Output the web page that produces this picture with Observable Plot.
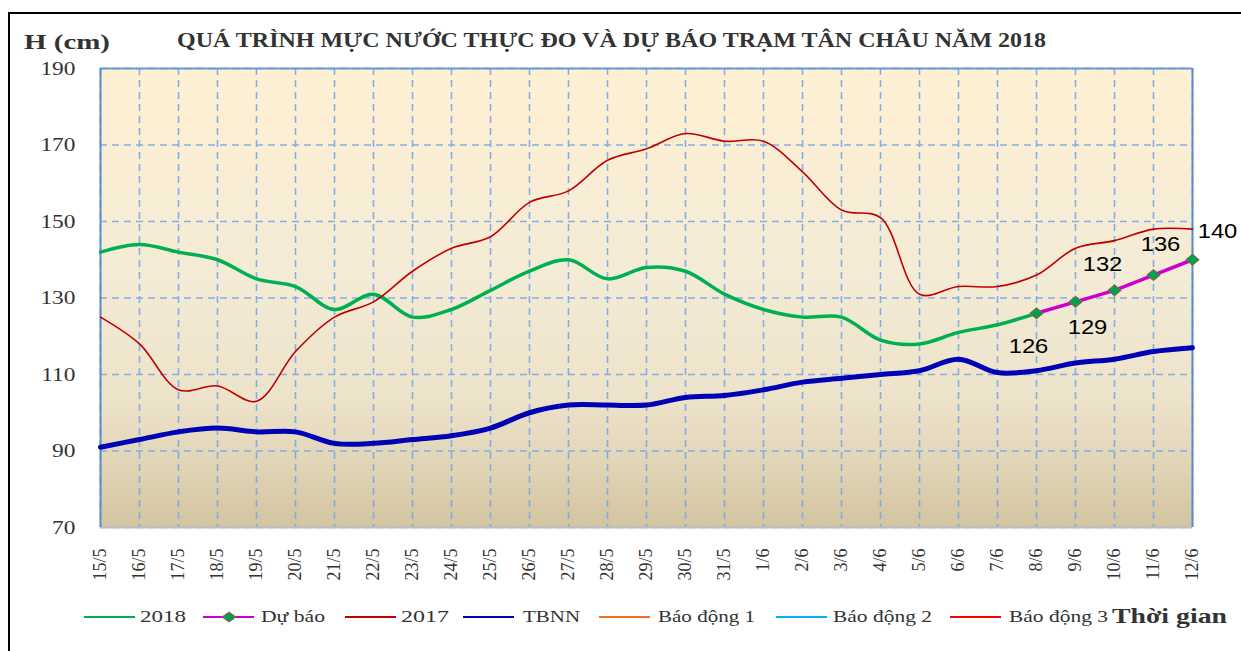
<!DOCTYPE html>
<html>
<head>
<meta charset="utf-8">
<script src="https://cdn.jsdelivr.net/npm/d3@7"></script>
<script src="https://cdn.jsdelivr.net/npm/@observablehq/plot@0.6"></script>
<style>
html,body{margin:0;padding:0;background:#fff;overflow:hidden;}
#wrap{position:relative;width:1241px;height:651px;overflow:hidden;}
#chart{position:absolute;left:0;top:0;}
#frame{position:absolute;left:8px;top:12px;width:1400px;height:800px;border-top:2px solid #000;border-left:2px solid #000;box-sizing:border-box;}
.ov{position:absolute;white-space:nowrap;color:#333;font-family:'Liberation Serif','Times New Roman',serif;line-height:1;transform-origin:0 50%;}
.bold{font-weight:bold;}
.lg{position:absolute;height:2px;}
</style>
</head>
<body>
<div id="wrap">
  <div id="chart"></div>
  <div id="frame"></div>
</div>
<script>
// ---- data ----
const dates = ["15/5","16/5","17/5","18/5","19/5","20/5","21/5","22/5","23/5","24/5","25/5","26/5","27/5","28/5","29/5","30/5","31/5",
               "1/6","2/6","3/6","4/6","5/6","6/6","7/6","8/6","9/6","10/6","11/6","12/6"];
const yTicks = [70, 90, 110, 130, 150, 170, 190];
const values2018 = [142,144,142,140,135,133,127,131,125,127,132,137,140,135,138,137,131,127,125,125,119,118,121,123,126];
const forecastDates = ["8/6","9/6","10/6","11/6","12/6"];
const forecastValues = [126,129,132,136,140];
const values2017 = [125,118,106,107,103,116,125,129,137,143,146,155,158,166,169,173,171,171,163,153,151,131,133,133,136,143,145,148,148];
const valuesTBNN = [91,93,95,96,95,95,92,92,93,94,96,100,102,102,102,104,104.5,106,108,109,110,111,114,110.5,111,113,114,116,117];
const legendItems = ["2018","Dự báo","2017","TBNN","Báo động 1","Báo động 2","Báo động 3"];
const titleText = "QUÁ TRÌNH MỰC NƯỚC THỰC ĐO VÀ DỰ BÁO TRẠM TÂN CHÂU NĂM 2018";
const yTitle = "H (cm)";
const xTitle = "Thời gian";

// ---- tables ----
const t2018 = values2018.map((v, i) => ({date: dates[i], v}));
const tFc = forecastValues.map((v, i) => ({date: forecastDates[i], v}));
const t2017 = values2017.map((v, i) => ({date: dates[i], v}));
const tTBNN = valuesTBNN.map((v, i) => ({date: dates[i], v}));

const labelOffsets = [[-8, 33], [12, 26], [-12, -26], [7, -30], [25, -28]];

const gridStyle = {stroke: "#7AA7E6", strokeOpacity: 0.9, strokeWidth: 1.6, strokeDasharray: "7,5"};

// wide diamond marker (like the Excel marker)
const wideDiamond = {
  draw(context, size) {
    const r = Math.sqrt(size / Math.PI);
    const w = r * 1.2, h = r;
    context.moveTo(0, -h);
    context.lineTo(w, 0);
    context.lineTo(0, h);
    context.lineTo(-w, 0);
    context.closePath();
  }
};

const chart = Plot.plot({
  width: 1241,
  height: 651,
  marginLeft: 100,
  marginRight: 49,
  marginTop: 68,
  marginBottom: 124,
  style: {fontFamily: "'Liberation Serif','Times New Roman',serif", background: "transparent", color: "#333"},
  x: {type: "point", domain: dates, padding: 0, label: null},
  y: {domain: [70, 190], label: null},
  marks: [
    Plot.frame({fill: "url(#bgGrad)", stroke: "none"}),
    Plot.gridY(yTicks, gridStyle),
    Plot.gridX(dates, gridStyle),
    Plot.ruleY([190], {stroke: "#6A98D8", strokeWidth: 2}),
    Plot.ruleY([70], {stroke: "#BDBDBD", strokeWidth: 2}),
    Plot.ruleX([dates[0], dates[dates.length - 1]], {stroke: "#5B8BD0", strokeWidth: 2}),
    Plot.axisY(yTicks, {tickSize: 0, tickPadding: 25, fontSize: 19.5, className: "yax"}),
    Plot.axisX(dates, {tickSize: 0, tickPadding: 21, tickRotate: -90, fontSize: 18}),
    Plot.line(t2018, {x: "date", y: "v", stroke: "#00B050", strokeWidth: 3.5, curve: "catmull-rom"}),
    Plot.line(tFc, {x: "date", y: "v", stroke: "#CC00CC", strokeWidth: 3.5}),
    Plot.dot(tFc, {x: "date", y: "v", symbol: wideDiamond, r: 5.6, fill: "#00A050", stroke: "#B0504A", strokeWidth: 1}),
    Plot.line(t2017, {x: "date", y: "v", stroke: "#C00000", strokeWidth: 1.6, curve: "catmull-rom"}),
    Plot.line(tTBNN, {x: "date", y: "v", stroke: "#0000B4", strokeWidth: 5, curve: "catmull-rom"}),
    ...tFc.map((d, i) => Plot.text([d], {x: "date", y: "v", text: d => String(d.v), dx: labelOffsets[i][0], dy: labelOffsets[i][1],
      fontFamily: "'Liberation Sans',Arial,sans-serif", fontSize: 19.5, fill: "#000", className: "dlab"}))
  ]
});

// gradient background
const ns = "http://www.w3.org/2000/svg";
const defs = document.createElementNS(ns, "defs");
defs.innerHTML = `<linearGradient id="bgGrad" x1="0" y1="0" x2="0" y2="1">
  <stop offset="0" stop-color="#FEF0D3"/>
  <stop offset="0.45" stop-color="#F4EBD6"/>
  <stop offset="0.72" stop-color="#EDE3CA"/>
  <stop offset="0.85" stop-color="#E2D6B9"/>
  <stop offset="1" stop-color="#D3C4A0"/>
</linearGradient>`;
chart.insertBefore(defs, chart.firstChild);
document.getElementById("chart").appendChild(chart);

// horizontally stretched text like the reference
function stretchSvgText(sel, k) {
  chart.querySelectorAll(sel).forEach(t => {
    const len = t.getComputedTextLength();
    t.setAttribute("textLength", len * k);
    t.setAttribute("lengthAdjust", "spacingAndGlyphs");
  });
}
stretchSvgText(".yax text", 1.2);
stretchSvgText(".dlab text", 1.22);

// overlays
const wrap = document.getElementById("wrap");
function addText(txt, left, cy, size, width, bold, color) {
  const el = document.createElement("div");
  el.className = "ov" + (bold ? " bold" : "");
  el.textContent = txt;
  el.style.left = left + "px";
  el.style.top = cy + "px";
  el.style.fontSize = size + "px";
  if (color) el.style.color = color;
  wrap.appendChild(el);
  const w = el.getBoundingClientRect().width;
  const s = width ? width / w : 1;
  el.style.transform = `translateY(-50%) scaleX(${s})`;
  return el;
}
function addLine(left, w, cy, color) {
  const el = document.createElement("div");
  el.className = "lg";
  el.style.left = left + "px";
  el.style.width = w + "px";
  el.style.top = (cy - 1) + "px";
  el.style.background = color;
  wrap.appendChild(el);
}
addText(yTitle, 24, 42, 22, 86, true);
addText(titleText, 177, 40, 20, 869, true);

const lgY = 617;
const lgColors = ["#00B050", "#CC00CC", "#C00000", "#0000C0", "#F07020", "#00B0F0", "#FF0000"];
const lgLineX = [84, 203, 345, 463, 599, 776, 950];
const lgTextX = [140, 261, 401, 523, 658, 833, 1009];
const lgTextW = [46, 64, 48, 57, 97, 99, 99];
legendItems.forEach((name, i) => {
  addLine(lgLineX[i], 51, lgY, lgColors[i]);
  addText(name, lgTextX[i], lgY, 17.5, lgTextW[i], false);
});
// diamond marker for "Dự báo"
const mk = document.createElementNS(ns, "svg");
mk.setAttribute("width", 16); mk.setAttribute("height", 12);
mk.style.position = "absolute"; mk.style.left = "221px"; mk.style.top = (lgY - 6) + "px";
mk.innerHTML = '<path d="M8,1 L15,6 L8,11 L1,6 Z" fill="#00A050" stroke="#B0504A" stroke-width="1"/>';
wrap.appendChild(mk);
addText(xTitle, 1112, lgY - 1, 21, 115, true);
</script>
</body>
</html>
